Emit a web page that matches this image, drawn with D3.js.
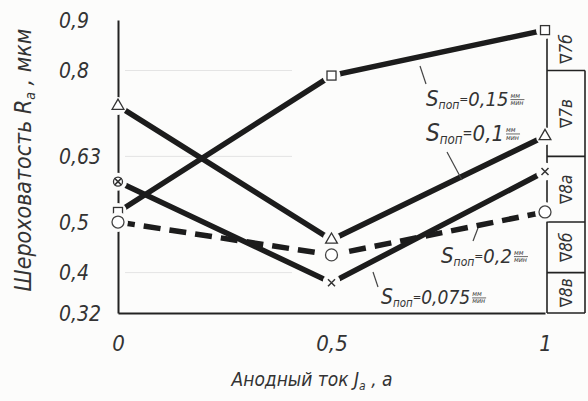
<!DOCTYPE html>
<html><head><meta charset="utf-8">
<script src="https://cdn.jsdelivr.net/npm/d3@7/dist/d3.min.js"></script>
<style>
html,body{margin:0;padding:0;background:#fcfcfb;}
svg{display:block;}
text{font-family:"DejaVu Sans Condensed","DejaVu Sans","Liberation Sans Narrow",sans-serif;font-style:oblique;fill:#333;}
</style></head>
<body>
<svg id="chart" width="588" height="401"></svg>
<script>
// ---- data ----
const currents = [0, 0.5, 1];
const xTickLabels = ["0", "0,5", "1"];
const yTicks = [0.32, 0.4, 0.5, 0.63, 0.8, 0.9];
const yTickLabels = ["0,32", "0,4", "0,5", "0,63", "0,8", "0,9"];
const gridValues = [0.8, 0.63, 0.4];
const feeds = ["0,075", "0,1", "0,15", "0,2"];
const ra075 = [0.58, 0.38, 0.60];
const ra010 = [0.73, 0.465, 0.67];
const ra015 = [0.52, 0.79, 0.88];
const ra020 = [0.50, 0.435, 0.52];
const classBounds = [0.9, 0.8, 0.63, 0.5, 0.4, 0.32];
const classLabels = ["∇7б", "∇7в", "∇8а", "∇8б", "∇8в"];
const xTitle = "Анодный  ток ";
const yTitle = "Шероховатость ";

const svg = d3.select("#chart");
const x = d3.scaleLinear().domain([0, 1]).range([118, 545]);
const y = d3.scaleLinear().domain([0.32, 0.9]).range([313, 20]);

// faint grid
svg.append("g").selectAll("line").data(gridValues).join("line")
  .attr("x1", 125).attr("x2", 292)
  .attr("y1", d => y(d)).attr("y2", d => y(d))
  .attr("stroke", "#e4e4e4").attr("stroke-width", 1);

// axes (L-shape)
const yAxis = d3.axisLeft(y).tickValues(yTicks).tickSize(0).tickFormat((d, i) => yTickLabels[i]);
const gy = svg.append("g").attr("transform", `translate(${x(0)},0)`).call(yAxis);
gy.select(".domain").attr("stroke", "#222").attr("stroke-width", 2);
gy.selectAll("text").attr("font-size", 21).attr("x", -59).attr("dy", "0.35em")
  .attr("text-anchor", "start")
  .style("font-family", "'DejaVu Sans Condensed','DejaVu Sans',sans-serif").attr("fill", "#333");

const xAxis = d3.axisBottom(x).tickValues(currents).tickSize(0).tickFormat((d, i) => xTickLabels[i]);
const gx = svg.append("g").attr("transform", `translate(0,${y(0.32)})`).call(xAxis);
gx.select(".domain").attr("stroke", "#222").attr("stroke-width", 2);
gx.selectAll("text").attr("font-size", 22).attr("y", 22)
  .style("font-family", "'DejaVu Sans Condensed','DejaVu Sans',sans-serif").attr("fill", "#333");

// right roughness-class boxes
const bx0 = x(1) + 2, bx1 = 585;
const boxes = svg.append("g");
boxes.append("line").attr("x1", bx0).attr("x2", bx0).attr("y1", y(0.885)).attr("y2", y(0.32))
  .attr("stroke", "#222").attr("stroke-width", 1.6);
boxes.selectAll("line.h").data(classBounds.slice(1)).join("line").attr("class", "h")
  .attr("x1", bx0).attr("x2", bx1).attr("y1", d => y(d)).attr("y2", d => y(d))
  .attr("stroke", "#222").attr("stroke-width", 1.6);
boxes.append("line").attr("x1", bx1).attr("x2", bx1).attr("y1", y(0.8)).attr("y2", y(0.32))
  .attr("stroke", "#222").attr("stroke-width", 1.6);
boxes.selectAll("text").data(classLabels).join("text")
  .attr("transform", (d, i) => {
    const cy = (y(Math.min(classBounds[i], 0.885)) + y(classBounds[i + 1])) / 2;
    return `translate(${(bx0 + bx1) / 2 + 6},${cy}) rotate(-90)`;
  })
  .attr("text-anchor", "middle").attr("font-size", 17).text(d => d);

// series lines
const line = d3.line().x((d, i) => x(currents[i])).y(d => y(d));
const series = [
  {v: ra075, dash: null},
  {v: ra010, dash: null},
  {v: ra015, dash: null},
  {v: ra020, dash: "17,9"}
];
const lg = svg.append("g");
series.forEach(s => {
  lg.append("path").attr("d", line(s.v)).attr("fill", "none")
    .attr("stroke", "#1c1c1c").attr("stroke-width", 5.5)
    .attr("stroke-dasharray", s.dash);
});

// markers with white halo (gap around points)
const mg = svg.append("g");
function halo(cx, cy, r) {
  mg.append("circle").attr("cx", cx).attr("cy", cy).attr("r", r).attr("fill", "#fcfcfb");
}
ra075.forEach((v, i) => {
  const cx = x(currents[i]), cy = y(v);
  halo(cx, cy, 9);
  if (i === 0) mg.append("circle").attr("cx", cx).attr("cy", cy).attr("r", 4.5)
    .attr("fill", "#fff").attr("stroke", "#333").attr("stroke-width", 1.3);
  mg.append("path").attr("d", `M${cx-3.5},${cy-3.5}L${cx+3.5},${cy+3.5}M${cx-3.5},${cy+3.5}L${cx+3.5},${cy-3.5}`)
    .attr("stroke", "#333").attr("stroke-width", 1.5);
});
ra010.forEach((v, i) => {
  const cx = x(currents[i]), cy = y(v);
  halo(cx, cy, 9);
  mg.append("path").attr("d", d3.symbol(d3.symbolTriangle, 60)()).attr("transform", `translate(${cx},${cy})`)
    .attr("fill", "#fff").attr("stroke", "#333").attr("stroke-width", 1.3);
});
ra015.forEach((v, i) => {
  const cx = x(currents[i]), cy = y(v);
  halo(cx, cy, 9);
  mg.append("rect").attr("x", cx - 4.5).attr("y", cy - 4.5).attr("width", 9).attr("height", 9)
    .attr("fill", "#fff").attr("stroke", "#333").attr("stroke-width", 1.3);
});
ra020.forEach((v, i) => {
  const cx = x(currents[i]), cy = y(v);
  halo(cx, cy, 10);
  mg.append("circle").attr("cx", cx).attr("cy", cy).attr("r", 6)
    .attr("fill", "#fff").attr("stroke", "#444").attr("stroke-width", 1.3);
});

// annotations
const ag = svg.append("g");
function label(lx, ly, feed, size, lead) {
  ag.append("line").attr("x1", lead[0]).attr("y1", lead[1]).attr("x2", lead[2]).attr("y2", lead[3])
    .attr("stroke", "#444").attr("stroke-width", 1.2);
  const t = ag.append("text").attr("x", lx).attr("y", ly).attr("font-size", size);
  t.append("tspan").attr("font-size", size * 1.1).text("S");
  t.append("tspan").attr("font-size", size * 0.6).attr("dy", 3).text("поп");
  t.append("tspan").attr("font-size", size * 0.6).attr("dy", -6).text("=");
  t.append("tspan").attr("dy", 3).text(feed);
  const w = t.node().getComputedTextLength();
  const fx = lx + w + 2;
  ag.append("text").attr("x", fx).attr("y", ly - size * 0.42).attr("font-size", 7).text("мм");
  ag.append("line").attr("x1", fx).attr("x2", fx + 14).attr("y1", ly - size * 0.32).attr("y2", ly - size * 0.32)
    .attr("stroke", "#444").attr("stroke-width", 0.8);
  ag.append("text").attr("x", fx).attr("y", ly - 1).attr("font-size", 7).text("мин");
}
label(426, 106, feeds[2], 20, [420, 66, 426, 84]);
label(426, 141, feeds[1], 22, [447, 152, 462, 180]);
label(441, 263, feeds[3], 20, [478, 228, 473, 241]);
label(381, 304, feeds[0], 19, [373, 272, 378, 287]);

// axis titles
const xt = svg.append("text").attr("x", 312).attr("y", 386).attr("text-anchor", "middle").attr("font-size", 19);
xt.append("tspan").text(xTitle);
xt.append("tspan").text("J");
xt.append("tspan").attr("font-size", 12).attr("dy", 4).text("a");
xt.append("tspan").attr("dy", -4).text(" , a");

const yt = svg.append("text").attr("transform", "translate(31,160) rotate(-90)")
  .attr("text-anchor", "middle").attr("font-size", 23);
yt.append("tspan").text(yTitle);
yt.append("tspan").text("R");
yt.append("tspan").attr("font-size", 14).attr("dy", 4).text("a");
yt.append("tspan").attr("dy", -4).text(" , мкм");
</script>
</body></html>
